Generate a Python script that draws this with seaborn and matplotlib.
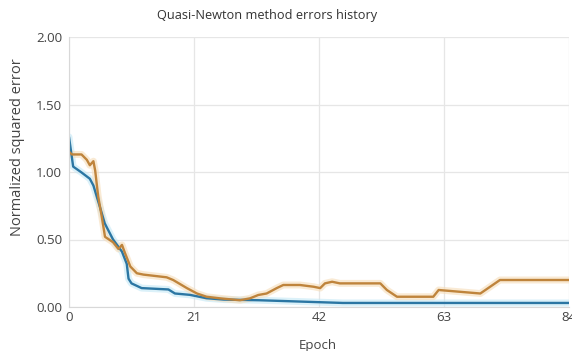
import seaborn as sns
import matplotlib.pyplot as plt
import pandas as pd

# training / selection error history
train_epoch = [0, 0.7, 2, 3.5, 4.1, 5.2, 6.0, 7.4, 8.9, 9.7, 10.0, 10.5, 12.2,
               16.7, 17.8, 20.3, 23.1, 26, 32, 46, 84]
train_error = [1.26, 1.04, 1.00, 0.95, 0.90, 0.74, 0.62, 0.50, 0.41, 0.32, 0.21,
               0.175, 0.14, 0.13, 0.10, 0.09, 0.065, 0.055, 0.05, 0.03, 0.03]

sel_epoch = [0, 0.5, 2.1, 3.0, 3.5, 4.1, 4.4, 4.9, 5.5, 6.05, 7.4, 8.3, 8.9, 9.4,
             10.3, 11.4, 12.5, 16.4, 17.5, 19.8, 21.5, 23.1, 25.4, 28.7, 30.4,
             31.8, 33.2, 34.9, 36.0, 38.8, 41.1, 42.2, 43.0, 44.2, 45.5, 52.3,
             53.4, 55.1, 61.2, 62.1, 69.1, 72.4, 84]
sel_error = [1.15, 1.13, 1.13, 1.09, 1.05, 1.08, 1.01, 0.82, 0.67, 0.52, 0.48, 0.43,
             0.46, 0.40, 0.30, 0.25, 0.24, 0.22, 0.20, 0.14, 0.10, 0.076, 0.064,
             0.05, 0.064, 0.089, 0.10, 0.14, 0.163, 0.163, 0.15, 0.14, 0.175,
             0.187, 0.175, 0.175, 0.126, 0.076, 0.076, 0.126, 0.10, 0.20, 0.20]

x_ticks = [0, 21, 42, 63, 84]
y_ticks = [0.0, 0.5, 1.0, 1.5, 2.0]

df = pd.concat([
    pd.DataFrame({"epoch": train_epoch, "error": train_error, "series": "training"}),
    pd.DataFrame({"epoch": sel_epoch, "error": sel_error, "series": "selection"}),
])

sns.set_style("white")
plt.rcParams["font.family"] = ["Open Sans", "DejaVu Sans"]

fig = plt.figure(figsize=(5.72, 3.51), dpi=100)
ax = fig.add_axes([69 / 572, 44 / 351, 500 / 572, 270 / 351])

colors = {"training": "#2b76a3", "selection": "#bf843c"}
halo = {"training": "#c4e8f6", "selection": "#f6dcb8"}

# soft halo under each line, like the blurry reference
sns.lineplot(data=df, x="epoch", y="error", hue="series", palette=halo,
             linewidth=5, alpha=0.6, legend=False, ax=ax, sort=False)
sns.lineplot(data=df, x="epoch", y="error", hue="series", palette=colors,
             linewidth=1.7, legend=False, ax=ax, sort=False)

ax.set_xlim(0, 84)
ax.set_ylim(0, 2)
ax.set_xticks(x_ticks)
ax.set_yticks(y_ticks)
ax.set_yticklabels([f"{v:.2f}" for v in y_ticks])
ax.grid(True, color="#e6e6e6", linewidth=0.9)
ax.set_axisbelow(True)
for side in ["top", "right"]:
    ax.spines[side].set_visible(False)
for side in ["left", "bottom"]:
    ax.spines[side].set_color("#d8d8d8")
ax.tick_params(axis="y", length=4, color="#d8d8d8", labelsize=9.5,
               labelcolor="#444444", pad=1)
ax.tick_params(axis="x", length=0, labelsize=9.5, labelcolor="#444444", pad=3)
ax.set_xlabel("")
ax.set_ylabel("")

fig.text(267 / 572, 1 - 16 / 351, "Quasi-Newton method errors history",
         ha="center", va="center", fontsize=9.2, color="#333333")
fig.text(18 / 572, 1 - 147 / 351, "Normalized squared error", rotation=90,
         ha="center", va="center", fontsize=10.5, color="#444444")
fig.text(318 / 572, 1 - 345 / 351, "Epoch", ha="center", va="center",
         fontsize=9.5, color="#444444")

fig.savefig("out.png", dpi=100)
